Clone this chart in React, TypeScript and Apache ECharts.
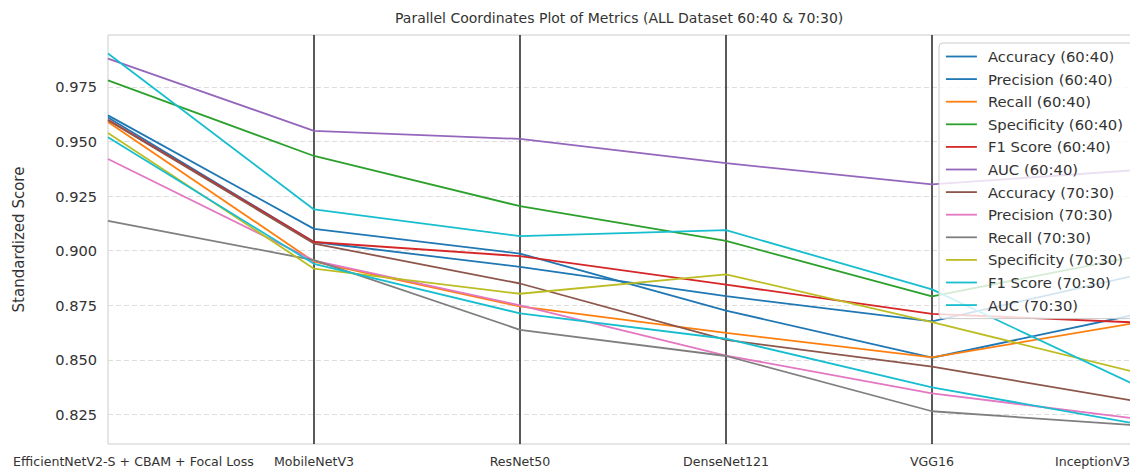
import React, { useEffect, useRef } from "react";
import * as echarts from "echarts";

const categories = [
  "EfficientNetV2-S + CBAM + Focal Loss",
  "MobileNetV3",
  "ResNet50",
  "DenseNet121",
  "VGG16",
  "InceptionV3",
];

const yTicks = [0.825, 0.85, 0.875, 0.9, 0.925, 0.95, 0.975];

const seriesNames = [
  "Accuracy (60:40)",
  "Precision (60:40)",
  "Recall (60:40)",
  "Specificity (60:40)",
  "F1 Score (60:40)",
  "AUC (60:40)",
  "Accuracy (70:30)",
  "Precision (70:30)",
  "Recall (70:30)",
  "Specificity (70:30)",
  "F1 Score (70:30)",
  "AUC (70:30)",
];

const accuracy6040 = [0.961, 0.904, 0.8926, 0.8792, 0.8677, 0.889];
const precision6040 = [0.962, 0.91, 0.8987, 0.8726, 0.851, 0.871];
const recall6040 = [0.959, 0.895, 0.8745, 0.8624, 0.8512, 0.8671];
const specificity6040 = [0.978, 0.9434, 0.9204, 0.9045, 0.8791, 0.8976];
const f16040 = [0.96, 0.904, 0.8975, 0.8845, 0.8711, 0.8671];
const auc6040 = [0.988, 0.9549, 0.9512, 0.9401, 0.9304, 0.937];
const accuracy7030 = [0.9598, 0.9033, 0.885, 0.8592, 0.8469, 0.831];
const precision7030 = [0.942, 0.8955, 0.875, 0.852, 0.8347, 0.823];
const recall7030 = [0.9137, 0.8957, 0.8638, 0.8518, 0.8265, 0.82];
const specificity7030 = [0.9539, 0.8918, 0.8803, 0.8892, 0.8673, 0.8441];
const f17030 = [0.952, 0.894, 0.8713, 0.8597, 0.8374, 0.8206];
const auc7030 = [0.9903, 0.9189, 0.9067, 0.9094, 0.8823, 0.8379];

const seriesValues = [
  accuracy6040,
  precision6040,
  recall6040,
  specificity6040,
  f16040,
  auc6040,
  accuracy7030,
  precision7030,
  recall7030,
  specificity7030,
  f17030,
  auc7030,
];

const colors = [
  "#1f77b4",
  "#1f77b4",
  "#ff7f0e",
  "#2ca02c",
  "#d62728",
  "#9467bd",
  "#8c564b",
  "#e377c2",
  "#7f7f7f",
  "#bcbd22",
  "#17becf",
  "#17becf",
];

const FONT = "DejaVu Sans";
const TXT = "#333333";

export default function App() {
  const ref = useRef<HTMLDivElement>(null);
  useEffect(() => {
    if (!ref.current) return;
    const chart = echarts.init(ref.current, undefined, { renderer: "svg" });
    const option: any = {
      animation: false,
      backgroundColor: "#ffffff",
      title: {
        text: "Parallel Coordinates Plot of Metrics (ALL Dataset 60:40 & 70:30)",
        left: 395,
        top: 11,
        padding: 0,
        textStyle: { fontFamily: FONT, fontSize: 14, fontWeight: "normal", color: TXT },
      },
      grid: {
        left: 108,
        top: 35,
        width: 1030,
        height: 409,
        containLabel: false,
        outerBoundsMode: "none",
        show: true,
        borderColor: "#cccccc",
        borderWidth: 1,
        backgroundColor: "transparent",
      },
      legend: {
        orient: "vertical",
        left: 939,
        top: 43,
        padding: [6, 40, 6, 6],
        itemWidth: 31,
        itemHeight: 14,
        itemGap: 7.6,
        backgroundColor: "rgba(255,255,255,0.8)",
        borderColor: "#cccccc",
        borderWidth: 1,
        borderRadius: 4,
        itemStyle: { opacity: 0 },
        lineStyle: { width: 1.8 },
        textStyle: { fontFamily: FONT, fontSize: 14.8, color: TXT, padding: [0, 0, 0, 6] },
        data: seriesNames,
      },
      xAxis: {
        type: "category",
        data: categories,
        boundaryGap: false,
        axisLine: { show: false },
        axisTick: { show: false },
        axisLabel: {
          interval: 0,
          hideOverlap: false,
          margin: 11,
          fontFamily: FONT,
          fontSize: 12.6,
          color: TXT,
          formatter: (v: string, i: number) =>
            i === 0 ? `{first|${v}}` : i === categories.length - 1 ? `{last|${v}}` : v,
          rich: {
            first: { fontFamily: FONT, fontSize: 12.6, color: TXT, padding: [0, 0, 0, 51] },
            last: { fontFamily: FONT, fontSize: 12.6, color: TXT, padding: [0, 91, 0, 0] },
          },
        },
        splitLine: {
          show: true,
          interval: (idx: number) => idx !== 0,
          lineStyle: { color: "#222222", width: 1.5 },
        },
      },
      yAxis: {
        type: "value",
        min: 0.8115,
        max: 0.9988,
        name: "Standardized Score",
        nameLocation: "middle",
        nameGap: 82,
        nameTextStyle: { fontFamily: FONT, fontSize: 15, color: TXT },
        axisLine: { show: false },
        axisTick: { show: false, customValues: yTicks },
        axisLabel: {
          customValues: yTicks,
          margin: 11,
          fontFamily: FONT,
          fontSize: 14.6,
          color: TXT,
          formatter: (v: number) => v.toFixed(3),
        },
        splitLine: {
          show: true,
          lineStyle: { color: "#dddddd", width: 1, type: [5, 3] },
        },
      },
      series: seriesNames.map((name, i) => ({
        name,
        type: "line",
        data: seriesValues[i],
        symbol: "none",
        showSymbol: false,
        color: colors[i],
        lineStyle: { color: colors[i], width: 1.8 },
        itemStyle: { color: colors[i] },
        z: 3,
      })),
    };
    chart.setOption(option);
    return () => chart.dispose();
  }, []);
  return (
    <div
      ref={ref}
      style={{ position: "fixed", left: 0, top: 0, width: 1130, height: 471, background: "#fff" }}
    />
  );
}
